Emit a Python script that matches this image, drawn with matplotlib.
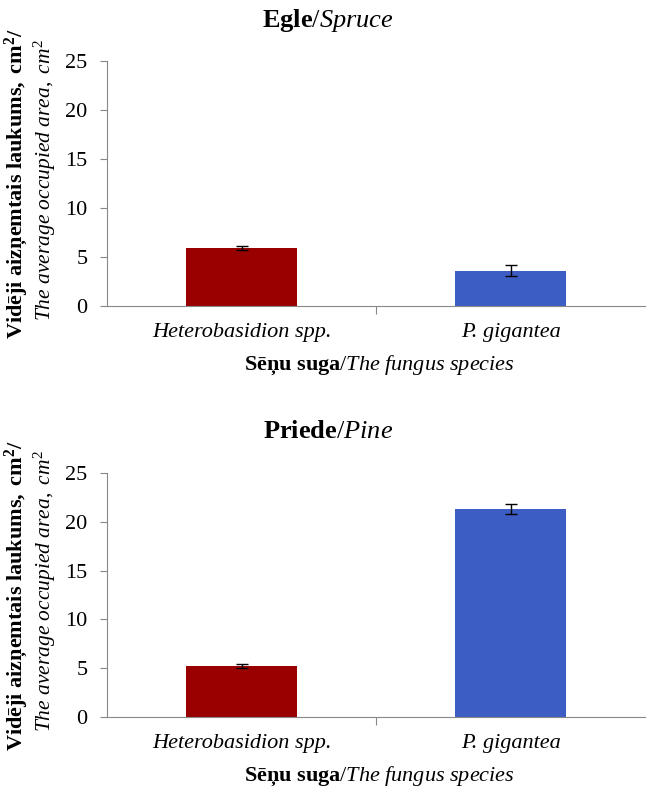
import matplotlib
matplotlib.use("Agg")
import matplotlib.pyplot as plt

plt.rcParams['font.family'] = ['Liberation Serif', 'DejaVu Serif']
plt.rcParams['mathtext.fontset'] = 'custom'
plt.rcParams['mathtext.rm'] = 'Liberation Serif'
plt.rcParams['mathtext.it'] = 'Liberation Serif:italic'
plt.rcParams['mathtext.bf'] = 'Liberation Serif:bold'

categories = ["Heterobasidion spp.", "P. gigantea"]
spruce_values = [5.9, 3.6]
spruce_errors = [0.2, 0.55]
pine_values = [5.2, 21.3]
pine_errors = [0.22, 0.5]
yticks = [0, 5, 10, 15, 20, 25]
colors = ["#990000", "#3C5DC4"]

W, H = 648, 787
fig = plt.figure(figsize=(W / 100, H / 100), dpi=100)

def make_axes(top_px, bottom_px):
    return fig.add_axes([107 / W, 1 - bottom_px / H, (645 - 107) / W, (bottom_px - top_px) / H])

panels = [
    (61, 306, spruce_values, spruce_errors, r"$\mathbf{Egle}$/$\mathit{Spruce}$", 20, 365),
    (473, 717, pine_values, pine_errors, r"$\mathbf{Priede}$/$\mathit{Pine}$", 432, 776),
]

for top, bot, vals, errs, title, title_y, xlab_y in panels:
    ax = make_axes(top, bot)
    x = [0, 1]
    ax.bar(x, vals, width=0.41, color=colors, zorder=2)
    ax.errorbar(x, vals, yerr=errs, fmt='none', ecolor='black', elinewidth=1,
                capsize=4, capthick=1, zorder=3)
    ax.set_xlim(-0.5, 1.5)
    ax.set_ylim(0, 25)
    ax.set_yticks(yticks)
    ax.set_yticklabels([str(t) for t in yticks], fontsize=16)
    ax.set_xticks([0.5])
    ax.set_xticklabels([])
    ax.tick_params(axis='x', length=6, color='#888888')
    ax.tick_params(axis='y', length=5, color='#888888', pad=9)
    for i, c in enumerate(categories):
        ax.text(i, -0.11, c, transform=ax.get_xaxis_transform(), ha='center', va='center',
                fontsize=16, style='italic')
    for s in ['top', 'right']:
        ax.spines[s].set_visible(False)
    for s in ['left', 'bottom']:
        ax.spines[s].set_color('#888888')
    fig.text(328 / W, 1 - title_y / H, title, ha='center', va='center', fontsize=19)
    fig.text(379 / W, 1 - xlab_y / H,
             r"$\mathbf{Sēņu\ suga}$/$\mathit{The\ fungus\ species}$",
             ha='center', va='center', fontsize=16)
    ymid = 1 - ((top + bot) / 2) / H
    fig.text(16 / W, ymid, r"$\mathbf{Vidēji\ aizņemtais\ laukums,\ cm^2/}$",
             rotation=90, ha='center', va='center', fontsize=16)
    fig.text(45 / W, ymid + 4 / H, r"$\mathit{The\ average\ occupied\ area,\ cm^2}$",
             rotation=90, ha='center', va='center', fontsize=15.5)

fig.savefig("out.png", dpi=100)
